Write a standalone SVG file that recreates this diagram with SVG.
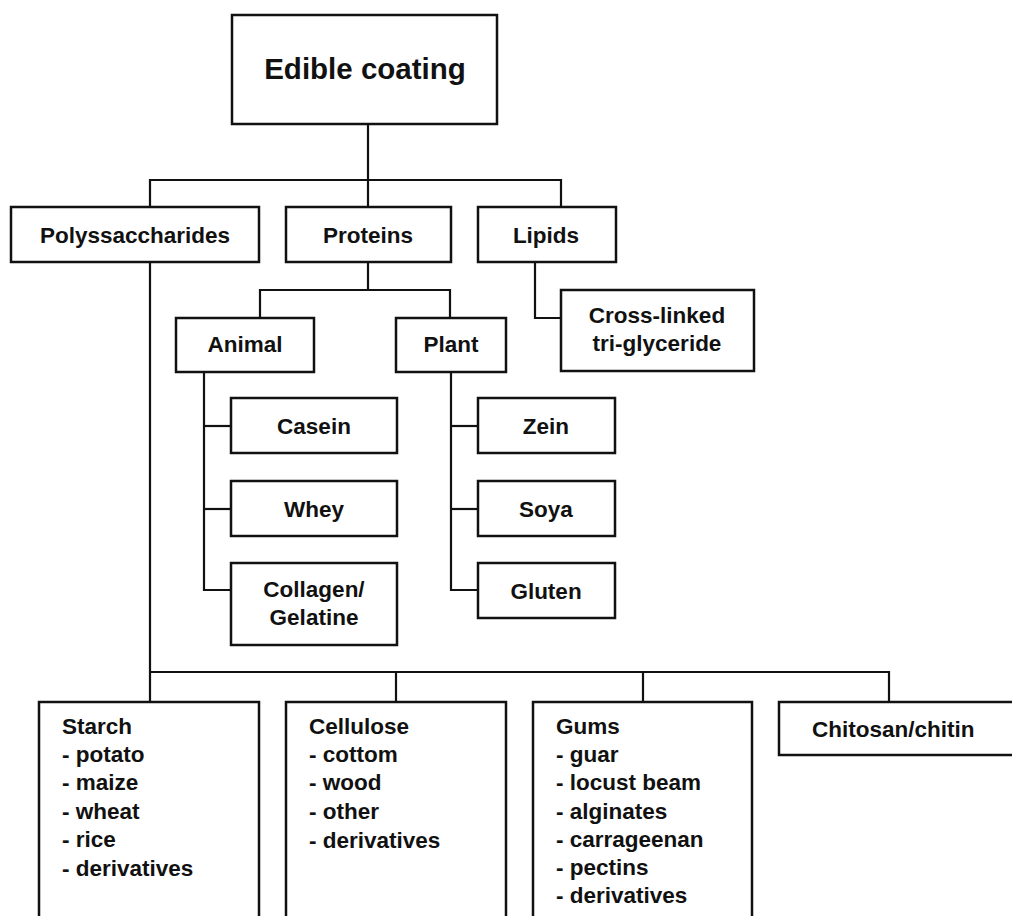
<svg xmlns="http://www.w3.org/2000/svg" width="1012" height="916" viewBox="0 0 1012 916">
<style>
rect{fill:#fff;stroke:#111;stroke-width:2.5}
.c line,.c polyline{stroke:#111;stroke-width:2.2;fill:none}
text{font-family:"Liberation Sans",Arial,sans-serif;font-weight:bold;font-size:22.5px;fill:#111}
.m{text-anchor:middle}
.t{font-size:29.5px}
</style>
<g class="c" id="connectors">
<line x1="368" y1="124" x2="368" y2="180"/>
<polyline points="150,207 150,180 561,180 561,207"/>
<line x1="368" y1="180" x2="368" y2="207"/>
<line x1="368" y1="262" x2="368" y2="290"/>
<polyline points="260,318 260,290 450,290 450,318"/>
<polyline points="535,262 535,318 561,318"/>
<line x1="150" y1="262" x2="150" y2="702"/>
<polyline points="150,672 889,672 889,702"/>
<line x1="396" y1="672" x2="396" y2="702"/>
<line x1="643" y1="672" x2="643" y2="702"/>
<polyline points="204,372 204,590 231,590"/>
<line x1="204" y1="426" x2="231" y2="426"/>
<line x1="204" y1="509" x2="231" y2="509"/>
<polyline points="451,372 451,590 478,590"/>
<line x1="451" y1="426" x2="478" y2="426"/>
<line x1="451" y1="509" x2="478" y2="509"/>
</g>
<g id="edible"><rect x="232" y="15" width="265" height="109"/><text class="m t" x="365" y="79">Edible coating</text></g>
<g id="poly"><rect x="11" y="207" width="248" height="55"/><text class="m" x="135" y="243">Polyssaccharides</text></g>
<g id="proteins"><rect x="286" y="207" width="165" height="55"/><text class="m" x="368" y="243">Proteins</text></g>
<g id="lipids"><rect x="478" y="207" width="138" height="55"/><text class="m" x="546" y="243">Lipids</text></g>
<g id="crosslinked"><rect x="561" y="290" width="193" height="81"/><text class="m" x="657" y="323">Cross-linked</text><text class="m" x="657" y="351">tri-glyceride</text></g>
<g id="animal"><rect x="176" y="318" width="138" height="54"/><text class="m" x="245" y="352">Animal</text></g>
<g id="plant"><rect x="396" y="318" width="110" height="54"/><text class="m" x="451" y="352">Plant</text></g>
<g id="casein"><rect x="231" y="398" width="166" height="55"/><text class="m" x="314" y="434">Casein</text></g>
<g id="whey"><rect x="231" y="481" width="166" height="55"/><text class="m" x="314" y="517">Whey</text></g>
<g id="collagen"><rect x="231" y="563" width="166" height="82"/><text class="m" x="314" y="597">Collagen/</text><text class="m" x="314" y="625">Gelatine</text></g>
<g id="zein"><rect x="478" y="398" width="137" height="55"/><text class="m" x="546" y="434">Zein</text></g>
<g id="soya"><rect x="478" y="481" width="137" height="55"/><text class="m" x="546" y="517">Soya</text></g>
<g id="gluten"><rect x="478" y="563" width="137" height="55"/><text class="m" x="546" y="599">Gluten</text></g>
<g id="starch"><rect x="39" y="702" width="220" height="240"/>
<text x="62" y="734">Starch</text><text x="62" y="762">- potato</text><text x="62" y="790">- maize</text><text x="62" y="819">- wheat</text><text x="62" y="847">- rice</text><text x="62" y="876">- derivatives</text></g>
<g id="cellulose"><rect x="286" y="702" width="220" height="240"/>
<text x="309" y="734">Cellulose</text><text x="309" y="762">- cottom</text><text x="309" y="790">- wood</text><text x="309" y="819">- other</text><text x="309" y="848">- derivatives</text></g>
<g id="gums"><rect x="533" y="702" width="219" height="240"/>
<text x="556" y="734">Gums</text><text x="556" y="762">- guar</text><text x="556" y="790">- locust beam</text><text x="556" y="819">- alginates</text><text x="556" y="847">- carrageenan</text><text x="556" y="875">- pectins</text><text x="556" y="903">- derivatives</text></g>
<g id="chitosan"><rect x="779" y="702" width="250" height="53"/><text x="812" y="737">Chitosan/chitin</text></g>
</svg>
